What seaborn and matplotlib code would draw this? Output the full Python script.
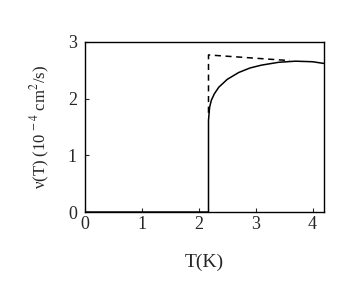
import matplotlib
matplotlib.use("Agg")
import matplotlib.pyplot as plt
import seaborn as sns
import pandas as pd

# viscosity curve (solid) and simple estimate (dashed)
t_solid = [0, 2.17, 2.17, 2.19, 2.22, 2.27, 2.35, 2.5, 2.7, 2.9, 3.1, 3.4, 3.7, 4.0, 4.2]
nu_solid = [0, 0, 1.62, 1.85, 1.97, 2.08, 2.2, 2.34, 2.46, 2.54, 2.59, 2.64, 2.66, 2.65, 2.62]
t_dash = [2.17, 2.17, 3.6]
nu_dash = [1.75, 2.77, 2.67]

xticks = [0, 1, 2, 3, 4]
yticks = [0, 1, 2, 3]

sns.set_style("ticks")
plt.rcParams['font.family'] = ['Liberation Serif', 'DejaVu Serif']
plt.rcParams['mathtext.fontset'] = 'stix'

fig = plt.figure(figsize=(3.56, 2.85), dpi=100)
ax = fig.add_axes([0.239, 0.256, 0.671, 0.597])

df_s = pd.DataFrame({"T": t_solid, "nu": nu_solid})
df_d = pd.DataFrame({"T": t_dash, "nu": nu_dash})
sns.lineplot(data=df_s, x="T", y="nu", sort=False, estimator=None, color="black", lw=1.1, ax=ax)
sns.lineplot(data=df_d, x="T", y="nu", sort=False, estimator=None, color="black", lw=1.1,
             linestyle=(0, (4, 3)), ax=ax)

ax.set_xlim(0, 4.2)
ax.set_ylim(0, 3)
ax.set_xticks(xticks)
ax.set_yticks(yticks)
ax.tick_params(direction="in", length=3, width=0.8, labelsize=13)
ax.tick_params(axis="x", pad=3)
ax.tick_params(axis="y", pad=6)
for s in ax.spines.values():
    s.set_linewidth(1.0)
    s.set_color("black")

ax.set_xlabel("T(K)", fontsize=14, labelpad=15)
ax.set_ylabel("ν(T) (10$^{\\,-4}$ cm$^2$/s)", fontsize=12, labelpad=11)

fig.savefig("out.png", dpi=100)
